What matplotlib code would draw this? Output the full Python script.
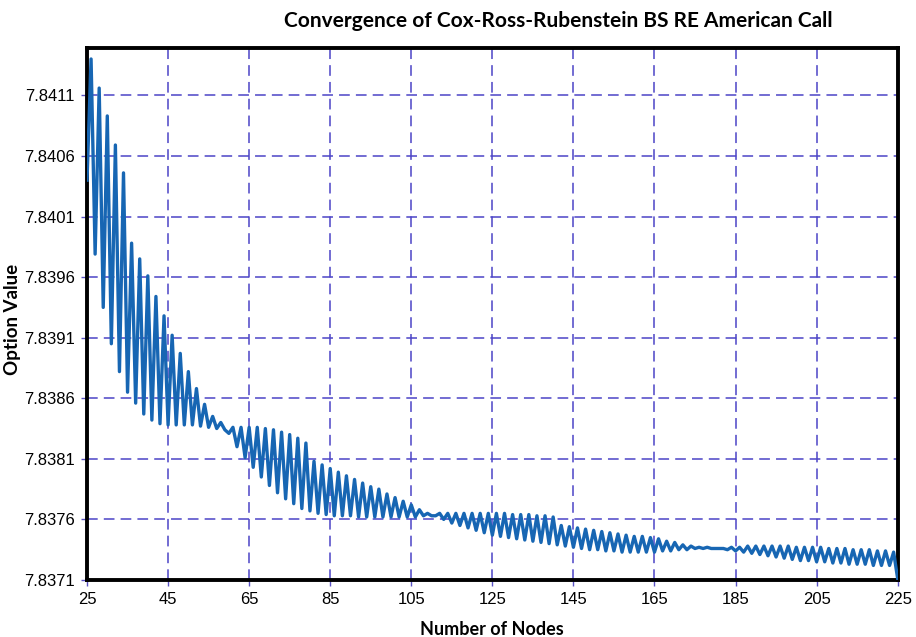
import numpy as np
import matplotlib
matplotlib.use("Agg")
import matplotlib.pyplot as plt

# CRR binomial price of the American call, one value per number of nodes
nodes = np.arange(25, 226)

value_25_64 = [
    7.84040, 7.84140, 7.83979, 7.84116, 7.83935, 7.84093, 7.83905, 7.84069, 7.83882, 7.84046,
    7.83865, 7.83988, 7.83856, 7.83975, 7.83847, 7.83961, 7.83842, 7.83944, 7.83839, 7.83928,
    7.83838, 7.83912, 7.83838, 7.83897, 7.83838, 7.83882, 7.83838, 7.83868, 7.83837, 7.83855,
    7.83836, 7.83845, 7.83835, 7.83840, 7.83834, 7.83831, 7.83836, 7.83820, 7.83836, 7.83811,
]
value_65_104 = [
    7.83836, 7.83803, 7.83836, 7.83795, 7.83835, 7.83788, 7.83834, 7.83782, 7.83832, 7.83777,
    7.83830, 7.83773, 7.83827, 7.83769, 7.83823, 7.83767, 7.83808, 7.83765, 7.83805, 7.83764,
    7.83802, 7.83763, 7.83799, 7.83763, 7.83796, 7.83763, 7.83793, 7.83762, 7.83790, 7.83762,
    7.83787, 7.83762, 7.83785, 7.83762, 7.83781, 7.83762, 7.83778, 7.83762, 7.83775, 7.83762,
]
value_105_144 = [
    7.83772, 7.83762, 7.83768, 7.83763, 7.83765, 7.83763, 7.83763, 7.83765, 7.83760, 7.83765,
    7.83757, 7.83765, 7.83755, 7.83765, 7.83753, 7.83765, 7.83751, 7.83765, 7.83749, 7.83765,
    7.83747, 7.83765, 7.83746, 7.83765, 7.83745, 7.83764, 7.83744, 7.83764, 7.83743, 7.83764,
    7.83742, 7.83763, 7.83741, 7.83763, 7.83740, 7.83762, 7.83739, 7.83755, 7.83738, 7.83754,
]
value_145_184 = [
    7.83737, 7.83753, 7.83736, 7.83752, 7.83735, 7.83751, 7.83735, 7.83750, 7.83734, 7.83749,
    7.83734, 7.83748, 7.83733, 7.83747, 7.83733, 7.83746, 7.83733, 7.83746, 7.83733, 7.83745,
    7.83733, 7.83744, 7.83734, 7.83742, 7.83734, 7.83741, 7.83735, 7.83739, 7.83735, 7.83738,
    7.83736, 7.83737, 7.83736, 7.83737, 7.83736, 7.83736, 7.83736, 7.83736, 7.83735, 7.83737,
]
value_185_225 = [
    7.83734, 7.83737, 7.83733, 7.83738, 7.83732, 7.83738, 7.83731, 7.83738, 7.83730, 7.83738,
    7.83729, 7.83738, 7.83728, 7.83738, 7.83727, 7.83737, 7.83726, 7.83737, 7.83726, 7.83737,
    7.83725, 7.83737, 7.83725, 7.83736, 7.83724, 7.83736, 7.83724, 7.83736, 7.83723, 7.83735,
    7.83723, 7.83735, 7.83723, 7.83735, 7.83722, 7.83734, 7.83722, 7.83734, 7.83722, 7.83733,
    7.83711,
]
option_value = value_25_64 + value_65_104 + value_105_144 + value_145_184 + value_185_225

x_ticks = list(range(25, 226, 20))
y_ticks = [7.8371, 7.8376, 7.8381, 7.8386, 7.8391, 7.8396, 7.8401, 7.8406, 7.8411]

title = "Convergence of Cox-Ross-Rubenstein BS RE American Call"
bold_font = ["Lato", "DejaVu Sans"]

fig = plt.figure(figsize=(9.16, 6.37), dpi=100)
ax = fig.add_axes([0.095, 0.0895, 0.885, 0.835])

ax.plot(nodes, option_value, color="#1766b3", lw=2.4, solid_joinstyle="round", zorder=3)

ax.set_xlim(25, 225)
ax.set_ylim(7.8371, 7.84149)
ax.set_xticks(x_ticks)
ax.set_yticks(y_ticks)
ax.set_yticklabels([f"{v:.4f}" for v in y_ticks], fontsize=12, family=["Liberation Sans", "DejaVu Sans"])
ax.set_xticklabels([str(v) for v in x_ticks], fontsize=12,
                   family=["Liberation Sans Narrow", "Liberation Sans", "DejaVu Sans"])
ax.tick_params(axis="both", direction="out", length=4, width=1, color="#5a52c4", pad=5)

ax.grid(True, color="#4c44c6", lw=1.1, ls=(0, (7, 4)), zorder=1)
for s in ax.spines.values():
    s.set_linewidth(2.8)
    s.set_color("black")

ax.set_xlabel("Number of Nodes", fontsize=13, fontweight="bold", family=bold_font, labelpad=10)
ax.set_ylabel("Option Value", fontsize=13.5, fontweight="bold", family=bold_font)
ax.yaxis.set_label_coords(-0.081, 0.49)
fig.text(0.61, 0.982, title, ha="center", va="top", fontsize=15, fontweight="bold", family=bold_font)

fig.savefig("out.png", dpi=100)
